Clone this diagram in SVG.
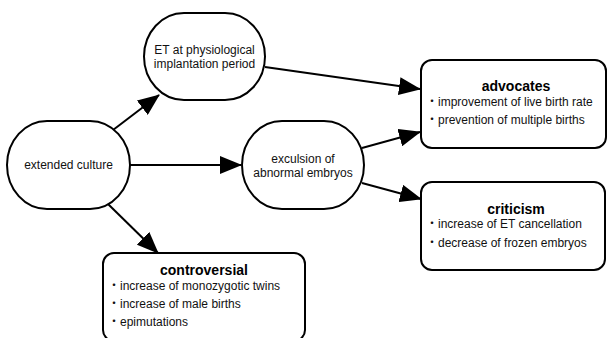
<svg xmlns="http://www.w3.org/2000/svg" width="607" height="338" viewBox="0 0 607 338">
<defs>
<style>
.shape{fill:#fff;stroke:#000;stroke-width:2}
.t{font-family:"Liberation Sans","Noto Sans CJK JP",Arial,sans-serif;font-size:12px;fill:#111}
.c{text-anchor:middle}
.h{font-family:"Liberation Sans",Arial,sans-serif;font-size:14px;font-weight:bold;text-anchor:middle;fill:#000}
.conn line{stroke:#000;stroke-width:2;marker-end:url(#ah)}
</style>
<marker id="ah" viewBox="0 0 22 18" refX="21" refY="9" markerWidth="22" markerHeight="18" markerUnits="userSpaceOnUse" orient="auto">
<path d="M0,0 L22,9 L0,18 z" fill="#000"/>
</marker>
</defs>
<rect width="607" height="338" fill="#fff"/>
<g id="connectors" class="conn">
<line x1="113" y1="130" x2="159" y2="95"/>
<line x1="130" y1="165" x2="241" y2="165"/>
<line x1="108" y1="204" x2="158" y2="253"/>
<line x1="265" y1="67" x2="420" y2="89"/>
<line x1="362" y1="148" x2="420" y2="132"/>
<line x1="362" y1="183" x2="421" y2="199"/>
</g>
<g id="node-extended">
<rect class="shape" x="7" y="121" width="123" height="88" rx="40" ry="44"/>
<text class="t c" x="68.5" y="169">extended culture</text>
</g>
<g id="node-et">
<rect class="shape" x="144" y="13" width="121" height="87" rx="40" ry="43.5"/>
<text class="t c" x="204.5" y="54">ET at physiological</text>
<text class="t c" x="204.5" y="68">implantation period</text>
</g>
<g id="node-exclusion">
<rect class="shape" x="242" y="121" width="122" height="88" rx="40" ry="44"/>
<text class="t c" x="303" y="163">exculsion of</text>
<text class="t c" x="303" y="177">abnormal embryos</text>
</g>
<g id="node-advocates">
<rect class="shape" x="421" y="60" width="185" height="88" rx="11"/>
<text class="h" x="516" y="91">advocates</text>
<text class="t" x="426" y="105.5">・improvement of live birth rate</text>
<text class="t" x="426" y="123.5">・prevention of multiple births</text>
</g>
<g id="node-criticism">
<rect class="shape" x="421" y="182" width="184" height="88" rx="11"/>
<text class="h" x="516" y="214">criticism</text>
<text class="t" x="426" y="227.5">・increase of ET cancellation</text>
<text class="t" x="426" y="247">・decrease of frozen embryos</text>
</g>
<g id="node-controversial">
<rect class="shape" x="103" y="253" width="202" height="88" rx="11"/>
<text class="h" x="204" y="275">controversial</text>
<text class="t" x="108" y="289.5">・increase of monozygotic twins</text>
<text class="t" x="108" y="307.5">・increase of male births</text>
<text class="t" x="108" y="326">・epimutations</text>
</g>
</svg>
